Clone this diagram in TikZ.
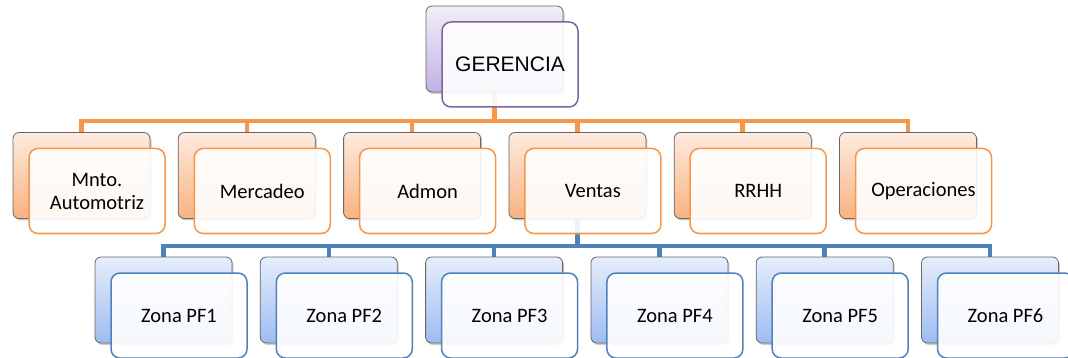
\documentclass[tikz,border=0pt]{standalone}
\usepackage{fontspec}
\setmainfont{Carlito}
\newfontfamily\arialfont{Liberation Sans}
\usetikzlibrary{calc,shadows,backgrounds}
\definecolor{accorange}{HTML}{F79646}
\definecolor{accblue}{HTML}{4F81BD}
\definecolor{accpurple}{HTML}{8064A2}
\definecolor{orangetop}{HTML}{FDEBDF}
\definecolor{orangebot}{HTML}{FAB281}
\definecolor{bluetop}{HTML}{E6EEFC}
\definecolor{bluebot}{HTML}{9EBCF1}
\definecolor{purpletop}{HTML}{F2EEF9}
\definecolor{purplebot}{HTML}{C2B1E2}
\tikzset{
    cardback/.style={draw=gray!80!black, line width=0.8pt, rounded corners=6pt,
        minimum width=137pt, minimum height=86pt,
        drop shadow={shadow xshift=1.5pt, shadow yshift=-2pt, opacity=0.4}},
    cardfront/.style={line width=1.5pt, rounded corners=9pt, fill=white,
        fill opacity=0.9, text opacity=1, minimum width=136pt, minimum height=85pt,
        align=center, font=\fontsize{20.5}{23}\selectfont},
    % back cards
    purpleback/.style={cardback, top color=purpletop, bottom color=purplebot},
    orangeback/.style={cardback, top color=orangetop, bottom color=orangebot},
    blueback/.style={cardback, top color=bluetop, bottom color=bluebot},
    % front cards
    purplefront/.style={cardfront, draw=accpurple},
    orangefront/.style={cardfront, draw=accorange},
    bluefront/.style={cardfront, draw=accblue},
    orangeline/.style={accorange, line width=4.5pt},
    blueline/.style={accblue, line width=4.5pt}
}
\begin{document}
\begin{tikzpicture}[x=1pt,y=-1pt]
    \useasboundingbox (0,0) rectangle (1068,358);
    % top
    \node[purpleback] (gerb) at (494.5,49) {};
    \node[purplefront, font=\arialfont\fontsize{21}{24}\selectfont] (gerf) at ($(gerb)+(15.5,15.5)$) {GERENCIA};
    % departments
    \node[orangeback] (mntb) at (81.5,175.5) {};
    \node[orangefront] (mntf) at ($(mntb)+(15.5,15.5)$) {Mnto.\\Automotriz};
    \node[orangeback] (merb) at (246.8,175.5) {};
    \node[orangefront] (merf) at ($(merb)+(15.5,15.5)$) {Mercadeo};
    \node[orangeback] (admb) at (412.1,175.5) {};
    \node[orangefront] (admf) at ($(admb)+(15.5,15.5)$) {Admon};
    \node[orangeback] (venb) at (577.4,175.5) {};
    \node[orangefront] (venf) at ($(venb)+(15.5,15.5)$) {Ventas};
    \node[orangeback] (rrhb) at (742.7,175.5) {};
    \node[orangefront] (rrhf) at ($(rrhb)+(15.5,15.5)$) {RRHH};
    \node[orangeback] (opeb) at (908,175.5) {};
    \node[orangefront] (opef) at ($(opeb)+(15.5,15.5)$) {Operaciones};
    % zonas
    \node[blueback] (pf1b) at (163.5,300) {};
    \node[bluefront] (pf1f) at ($(pf1b)+(15.5,15.5)$) {Zona PF1};
    \node[blueback] (pf2b) at (328.8,300) {};
    \node[bluefront] (pf2f) at ($(pf2b)+(15.5,15.5)$) {Zona PF2};
    \node[blueback] (pf3b) at (494.1,300) {};
    \node[bluefront] (pf3f) at ($(pf3b)+(15.5,15.5)$) {Zona PF3};
    \node[blueback] (pf4b) at (659.4,300) {};
    \node[bluefront] (pf4f) at ($(pf4b)+(15.5,15.5)$) {Zona PF4};
    \node[blueback] (pf5b) at (824.7,300) {};
    \node[bluefront] (pf5f) at ($(pf5b)+(15.5,15.5)$) {Zona PF5};
    \node[blueback] (pf6b) at (990,300) {};
    \node[bluefront] (pf6f) at ($(pf6b)+(15.5,15.5)$) {Zona PF6};
    % connectors
    \begin{scope}[on background layer]
        \coordinate (obus) at (0,121);
        \coordinate (bbus) at (0,246);
        \draw[orangeline] (gerb) -- (gerb |- obus);
        \draw[orangeline] (mntb.north) -- (mntb |- obus) -- (opeb |- obus) -- (opeb.north);
        \draw[orangeline] (merb |- obus) -- (merb.north);
        \draw[orangeline] (admb |- obus) -- (admb.north);
        \draw[orangeline] (venb |- obus) -- (venb.north);
        \draw[orangeline] (rrhb |- obus) -- (rrhb.north);
        \draw[blueline] (venb) -- (venb |- bbus);
        \draw[blueline] (pf1b.north) -- (pf1b |- bbus) -- (pf6b |- bbus) -- (pf6b.north);
        \draw[blueline] (pf2b |- bbus) -- (pf2b.north);
        \draw[blueline] (pf3b |- bbus) -- (pf3b.north);
        \draw[blueline] (pf4b |- bbus) -- (pf4b.north);
        \draw[blueline] (pf5b |- bbus) -- (pf5b.north);
    \end{scope}
\end{tikzpicture}
\end{document}
